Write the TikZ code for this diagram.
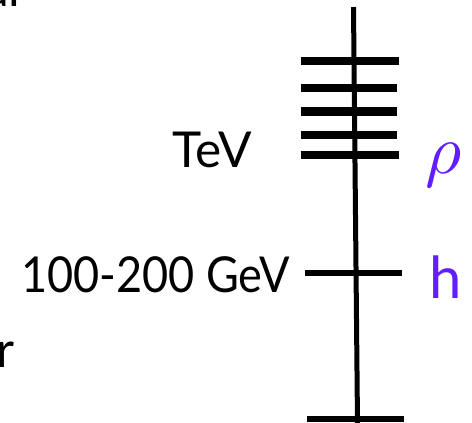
\documentclass[tikz,border=0pt]{standalone}
\usepackage{fontspec}
\usepackage{graphicx}
\setmainfont{Lato}
\definecolor{levelblue}{RGB}{98,30,255}
\begin{document}
\begin{tikzpicture}[x=1pt,y=-1pt,
  bar/.style={line width=8.2pt},
  thinbar/.style={line width=6.5pt},
  axis/.style={line width=5pt},
  lab/.style={font=\fontsize{49.5}{50}\selectfont, inner sep=0pt, anchor=base east},
  partname/.style={text=levelblue, inner sep=0pt, anchor=base west}]
\useasboundingbox (0,0) rectangle (472,423);
\clip (0,0) rectangle (472,423);
% fragments of cut-off text at the left edge
\node[lab, anchor=base west] (frag1) at (-16,6) {al};
\node[lab, anchor=base west] (frag2) at (-3.5,367) {r};
% axis
\coordinate (top) at (353.5,7);
\coordinate (bottom) at (357.5,423);
\draw[axis] (top) -- (bottom);
% resonance levels
\foreach \y/\r [count=\i] in {61/399, 88/397, 111.5/397, 135/397, 155/399} {
  \coordinate (l\i) at (300.5,\y);
  \coordinate (r\i) at (\r,\y);
  \draw[bar] (l\i) -- (r\i);
}
% Higgs level
\coordinate (hl) at (305,273);
\coordinate (hr) at (402,273);
\draw[thinbar] (hl) -- (hr);
% ground
\coordinate (gl) at (307,419);
\coordinate (gr) at (404,419);
\draw[thinbar] (gl) -- (gr);
% labels
\node[lab] (tev) at (252,167) {TeV};
\node[lab] (gev) at (290,292.5) {\scalebox{0.91}[1]{100-200 GeV}};
\node[partname] (rho) at (425,173) {\scalebox{7}{$\rho$}};
\node[partname, font=\fontsize{58}{58}\selectfont] (h) at (429,298) {h};
\end{tikzpicture}
\end{document}
